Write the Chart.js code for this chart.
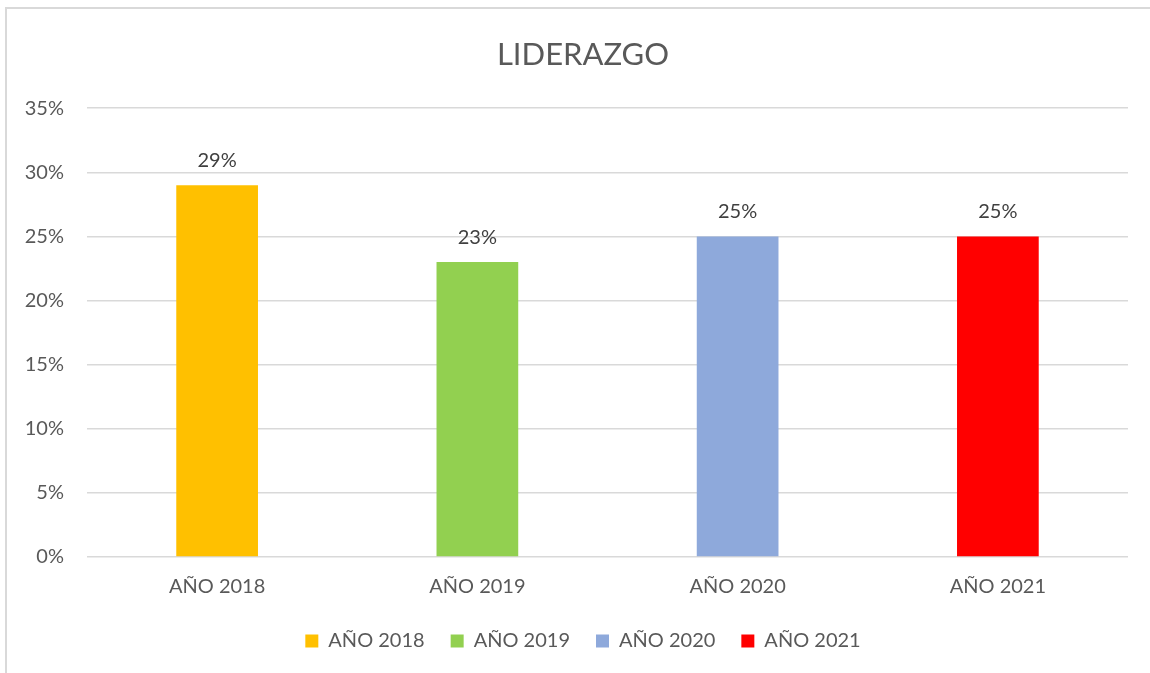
<!DOCTYPE html>
<html>
<head>
<meta charset="utf-8">
<script src="https://cdn.jsdelivr.net/npm/chart.js@4/dist/chart.umd.min.js"></script>
<style>
  html, body { margin: 0; padding: 0; background: #fff; overflow: hidden; }
  #marco { position: absolute; left: 5px; top: 7px; width: 1200px; height: 720px; border: 2px solid #d9d9d9; box-sizing: border-box; }
  #wrap { position: absolute; left: 0; top: 0; width: 1150px; height: 673px; }
</style>
</head>
<body>
<div id="marco"></div>
<div id="wrap"><canvas id="liderazgoChart"></canvas></div>
<script>
// Datos del gráfico
const categorias = ['AÑO 2018', 'AÑO 2019', 'AÑO 2020', 'AÑO 2021'];
const valores = [0.29, 0.23, 0.25, 0.25];
const colores = ['#FFC000', '#92D050', '#8EA9DB', '#FF0000'];
const ticksY = [0, 0.05, 0.10, 0.15, 0.20, 0.25, 0.30, 0.35];

const fuente = 'Lato, "Open Sans", sans-serif';
const gris = '#595959';

const pct = v => Math.round(v * 100) + '%';

// Etiquetas encima de cada barra
const etiquetas = {
    id: 'etiquetas',
    afterLayout(chart) {
        // el eje y es estrecho, dejar espacio para que no se corten sus etiquetas
        chart.scales.y.left = 0;
    },
    afterDatasetsDraw(chart) {
        const ctx = chart.ctx;
        const meta = chart.getDatasetMeta(0);
        ctx.save();
        ctx.font = '20px ' + fuente;
        ctx.fillStyle = '#404040';
        ctx.textAlign = 'center';
        ctx.textBaseline = 'middle';
        meta.data.forEach((bar, i) => {
            ctx.fillText(pct(valores[i]), bar.x, bar.y - 25);
        });
        ctx.restore();
    }
};

new Chart(document.getElementById('liderazgoChart'), {
    type: 'bar',
    data: {
        labels: categorias,
        datasets: [{
            label: 'Liderazgo',
            data: valores,
            backgroundColor: colores,
            borderWidth: 0,
            categoryPercentage: 1,
            barPercentage: 0.314
        }]
    },
    options: {
        responsive: true,
        maintainAspectRatio: false,
        animation: false,
        // el cuadro del gráfico sigue fuera de la imagen por la derecha,
        // por eso el título y la leyenda quedan algo desplazados
        layout: { padding: { left: 38, right: 22, top: 0, bottom: 12 } },
        scales: {
            y: {
                min: 0,
                max: 0.35,
                afterBuildTicks: axis => { axis.ticks = ticksY.map(v => ({ value: v })); },
                afterFit: axis => { axis.width = 49; },
                ticks: {
                    callback: v => pct(v),
                    color: gris,
                    font: { size: 20, family: fuente },
                    padding: 23
                },
                grid: { color: '#d9d9d9', lineWidth: 1.5, drawTicks: false },
                border: { display: false }
            },
            x: {
                afterFit: axis => { axis.height = 48; },
                ticks: {
                    color: gris,
                    font: { size: 20, family: fuente },
                    padding: 18
                },
                grid: { display: false, drawTicks: false },
                border: { display: false }
            }
        },
        plugins: {
            title: {
                display: true,
                text: 'LIDERAZGO',
                color: gris,
                font: { size: 31, family: fuente, weight: 'normal' },
                padding: { top: 36, bottom: 35 }
            },
            legend: {
                position: 'bottom',
                labels: {
                    color: gris,
                    font: { size: 20, family: fuente },
                    boxWidth: 13,
                    boxHeight: 13,
                    padding: 26,
                    generateLabels: chart => categorias.map((c, i) => ({
                        text: c,
                        fillStyle: colores[i],
                        strokeStyle: colores[i],
                        lineWidth: 0,
                        fontColor: gris,
                        index: i
                    }))
                },
                onClick: null
            },
            tooltip: { enabled: false }
        }
    },
    plugins: [etiquetas]
});
</script>
</body>
</html>
